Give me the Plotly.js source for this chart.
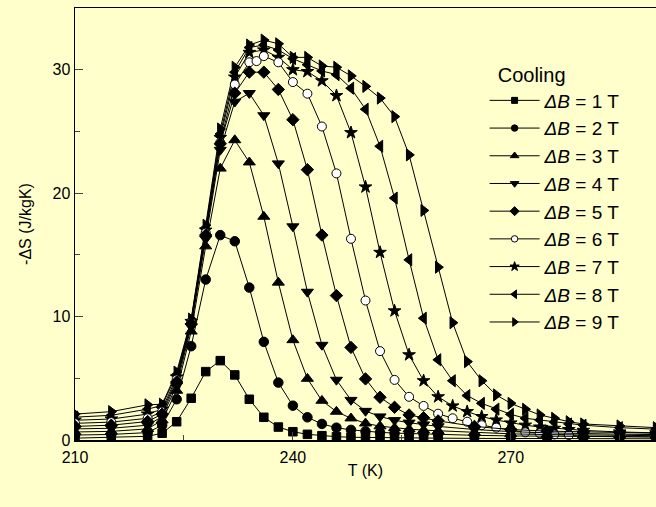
<!DOCTYPE html>
<html><head><meta charset="utf-8">
<script src="https://cdn.plot.ly/plotly-3.0.1.min.js"></script>
<style>html,body{margin:0;padding:0;background:#FFFFCC;overflow:hidden}</style>
</head><body><div id="chart" style="width:656px;height:507px"></div>
<script>
// Temperature grids (K)
const T_low = [210,215,220,222,224,226,228,230,232,234,236,238,240,242,244,246,248,250,252,254,256,258,260,265,270,275,280,285,290];
const T_high = [210,215,220,222,224,226,228,230,232,234,236,238,240,242,244,246,248,250,252,254,256,258,260,262,264,266,268,270,272,274,276,278,280,285,290];
const T_6T = [210,215,220,222,224,226,228,230,232,234,235,236,238,240,242,244,246,248,250,252,254,256,258,260,262,264,266,268,270,272,274,276,278,280,285,290];

// -ΔS (J/kgK)
const dS_1T = [0.15,0.2,0.3,0.55,1.48,3.38,5.54,6.43,5.27,3.3,1.84,1.05,0.67,0.46,0.35,0.27,0.22,0.2,0.18,0.17,0.16,0.15,0.15,0.13,0.12,0.11,0.1,0.1,0.1];
const dS_2T = [0.4,0.45,0.6,1.2,3.3,7.6,13.0,16.6,16.1,12.35,7.95,4.65,2.78,1.84,1.3,1.0,0.82,0.7,0.62,0.56,0.52,0.48,0.45,0.38,0.33,0.3,0.28,0.26,0.25];
const dS_3T = [0.65,0.7,0.9,1.6,4.0,8.8,15.7,22.0,24.3,22.5,18.1,12.76,8.1,4.97,3.19,2.3,1.76,1.35,1.12,0.98,0.88,0.8,0.74,0.6,0.5,0.44,0.4,0.37,0.35];
const dS_4T = [0.9,0.95,1.2,1.9,4.4,9.2,16.3,23.5,27.4,28.1,26.3,22.4,17.3,12.0,7.7,4.87,3.24,2.35,1.9,1.6,1.4,1.25,1.1,0.85,0.68,0.58,0.5,0.47,0.44];
const dS_5T = [1.1,1.2,1.5,2.1,4.7,9.4,16.6,24.0,28.1,29.8,29.8,28.4,25.95,21.9,16.6,11.7,7.5,4.95,3.46,2.65,2.03,1.8,1.55,1.1,0.85,0.72,0.65,0.6,0.55];
const dS_6T = [1.35,1.45,1.76,2.3,4.9,9.5,16.8,24.1,28.8,30.6,30.7,31.1,30.6,29.0,28.06,25.4,21.6,16.3,11.3,7.2,4.87,3.5,2.76,2.13,1.76,1.48,1.2,1.0,0.81,0.62,0.54,0.45,0.4,0.3,0.27,0.25];
const dS_7T = [1.6,1.7,2.1,2.5,5.1,9.6,17.0,24.5,29.4,31.4,31.6,31.0,30.0,29.85,29.1,27.9,24.9,20.5,15.2,10.46,6.9,4.8,3.5,2.76,2.3,1.9,1.62,1.38,1.2,1.05,0.95,0.85,0.78,0.65,0.58];
const dS_8T = [1.85,2.0,2.5,2.8,5.3,9.7,17.2,24.8,29.8,31.8,32.0,31.6,30.9,30.4,29.9,29.6,28.5,26.8,23.8,19.6,14.6,9.87,6.5,4.8,3.6,2.97,2.5,2.08,1.76,1.62,1.45,1.3,1.2,1.0,0.88];
const dS_9T = [2.1,2.3,2.85,2.9,5.5,9.8,17.4,25.2,30.2,32.0,32.4,32.1,31.0,31.0,30.3,30.2,29.5,28.65,27.7,26.2,23.1,18.6,14.0,9.5,6.35,4.8,3.65,2.97,2.49,2.03,1.76,1.48,1.3,1.14,1.0];

const fields = ['1','2','3','4','5','6','7','8','9'];
const temps = [T_low,T_low,T_low,T_low,T_low,T_6T,T_high,T_high,T_high];
const values = [dS_1T,dS_2T,dS_3T,dS_4T,dS_5T,dS_6T,dS_7T,dS_8T,dS_9T];
const symbols = ['square','circle','triangle-up','triangle-down','diamond','circle','star','triangle-left','triangle-right'];
const sizes = [8.5,9.5,10.5,10.5,9.5,9,9.5,10.5,10.5];
const legSizes = [6,6.5,7.5,7.5,7,6.5,7,7.5,7.5];
const fills = ['black','black','black','black','black','white','black','black','black'];

const traces = [];
for (let i = fields.length - 1; i >= 0; i--) {
  traces.push({
    x: temps[i], y: values[i], type: 'scatter', mode: 'lines+markers',
    line: {color: 'black', width: 1},
    marker: {symbol: symbols[i], size: sizes[i], color: fills[i], line: {color: 'black', width: 1}},
    showlegend: false, hoverinfo: 'skip'
  });
}
for (let i = 0; i < fields.length; i++) {
  traces.push({
    x: [null], y: [null], type: 'scatter', mode: 'lines+markers',
    name: '<i>ΔB</i> = ' + fields[i] + ' T', legendgroup: 'g' + i,
    line: {color: 'black', width: 1},
    marker: {symbol: symbols[i], size: legSizes[i], color: fills[i], line: {color: 'black', width: 1}}
  });
}

const font = 'Arial, "Liberation Sans", sans-serif';
const layout = {
  width: 656, height: 507,
  paper_bgcolor: '#FFFFCC', plot_bgcolor: '#FFFFCC',
  margin: {l: 75, r: 0, t: 8, b: 67},
  font: {family: font, size: 16, color: 'black'},
  showlegend: true,
  legend: {
    x: 0.705, y: 0.89, xanchor: 'left', yanchor: 'top',
    bgcolor: 'rgba(0,0,0,0)', borderwidth: 0,
    font: {family: font, size: 19, color: 'black'},
    title: {text: '\u00A0\u00A0Cooling', font: {family: font, size: 20, color: 'black'}},
    traceorder: 'grouped', tracegroupgap: 0, itemwidth: 50
  },
  xaxis: {
    range: [210, 290], tick0: 210, dtick: 30, ticks: 'inside', ticklen: 8, tickwidth: 1,
    showline: true, linewidth: 1.5, linecolor: 'black', mirror: true,
    showgrid: false, zeroline: false, ticklabelstandoff: 2,
    tickfont: {family: font, size: 16},
    minor: {ticks: 'inside', ticklen: 5, tickwidth: 1, tick0: 210, dtick: 15, showgrid: false},
    title: {text: 'T (K)', font: {family: font, size: 16}, standoff: 0}
  },
  yaxis: {
    range: [0, 35], tick0: 0, dtick: 10, ticks: 'inside', ticklen: 8, tickwidth: 1,
    showline: true, linewidth: 1.5, linecolor: 'black', mirror: false,
    showgrid: false, zeroline: false,
    tickfont: {family: font, size: 16},
    minor: {ticks: 'inside', ticklen: 5, tickwidth: 1, tick0: 0, dtick: 5, showgrid: false},
    title: {text: '-ΔS (J/kgK)', font: {family: font, size: 16}, standoff: 17}
  }
};
Plotly.newPlot('chart', traces, layout, {displayModeBar: false, staticPlot: true});
</script></body></html>
